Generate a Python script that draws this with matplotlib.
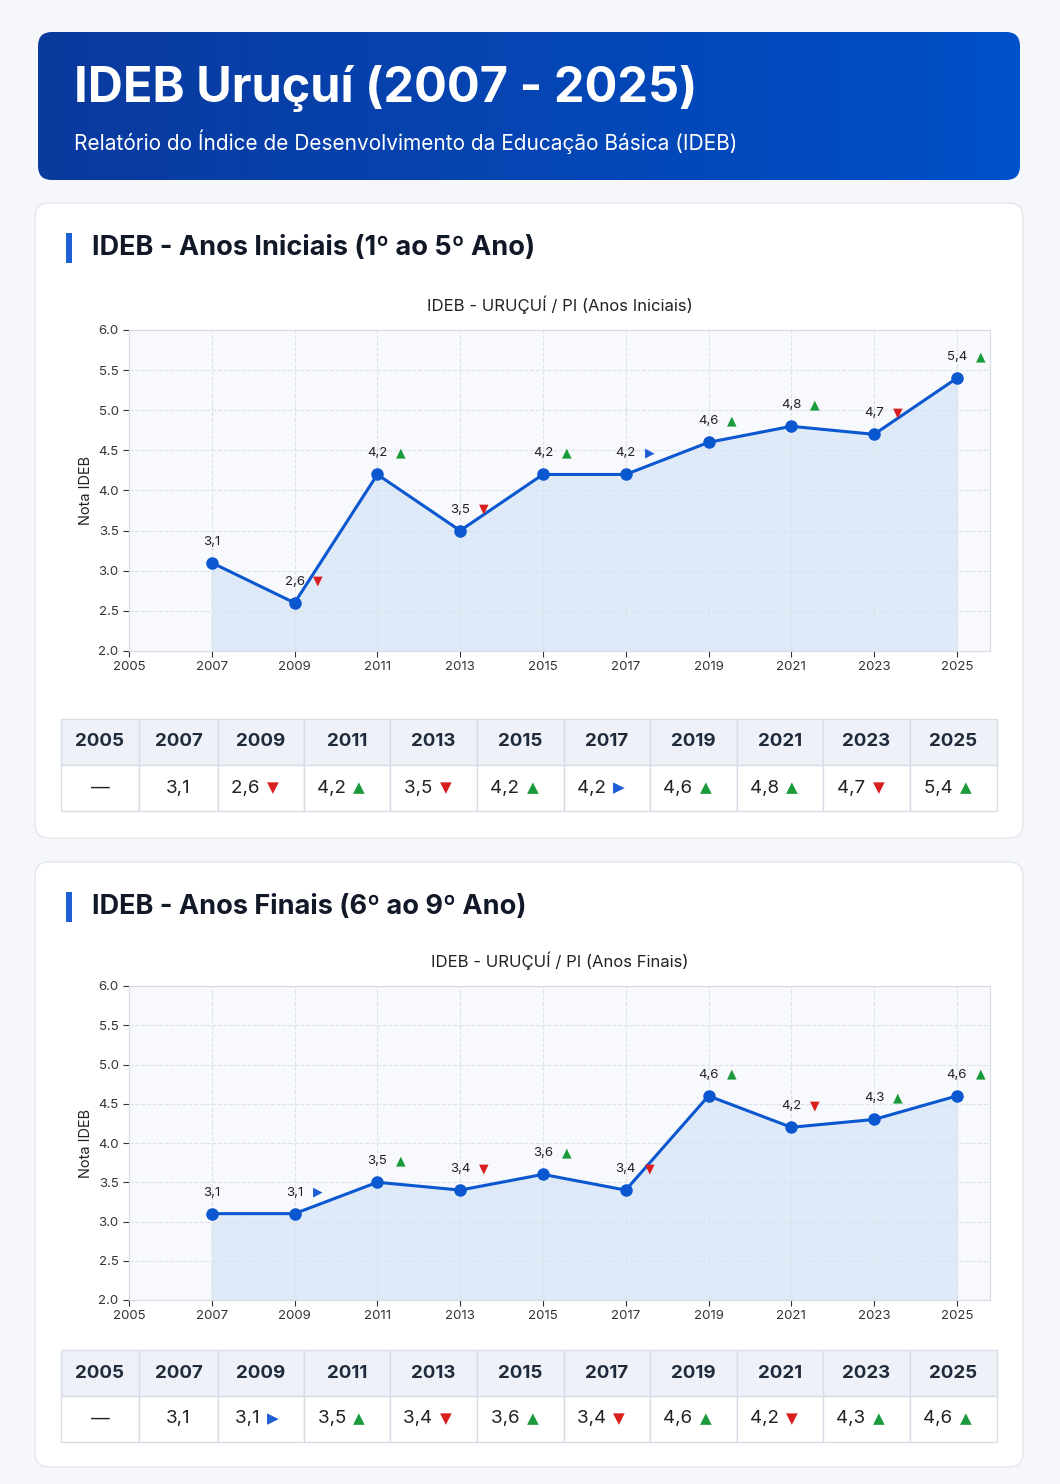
import numpy as np
import matplotlib.pyplot as plt
from matplotlib.patches import FancyBboxPatch, Rectangle
from matplotlib.colors import LinearSegmentedColormap

plt.rcParams['font.family'] = ['Inter', 'DejaVu Sans']

years = [2005, 2007, 2009, 2011, 2013, 2015, 2017, 2019, 2021, 2023, 2025]
ini_years = [2007, 2009, 2011, 2013, 2015, 2017, 2019, 2021, 2023, 2025]
ini_vals = [3.1, 2.6, 4.2, 3.5, 4.2, 4.2, 4.6, 4.8, 4.7, 5.4]
ini_trend = ['', 'down', 'up', 'down', 'up', 'same', 'up', 'up', 'down', 'up']
fin_years = [2007, 2009, 2011, 2013, 2015, 2017, 2019, 2021, 2023, 2025]
fin_vals = [3.1, 3.1, 3.5, 3.4, 3.6, 3.4, 4.6, 4.2, 4.3, 4.6]
fin_trend = ['', 'same', 'up', 'down', 'up', 'down', 'up', 'down', 'up', 'up']

SYM = {'up': ('▲', '#1b9a3b'), 'down': ('▼', '#d91e1e'), 'same': ('▶', '#1f5fd6')}
W, H = 1060, 1484
fig = plt.figure(figsize=(W / 100, H / 100), dpi=100)
fig.patch.set_facecolor('#f5f7fb')
ov = fig.add_axes([0, 0, 1, 1])
ov.set_xlim(0, W); ov.set_ylim(H, 0); ov.axis('off')

# header with gradient
grad = np.linspace(0, 1, 256).reshape(1, -1)
hdr = FancyBboxPatch((38, 32), 982, 148, boxstyle='round,pad=0,rounding_size=14',
                     fc='none', ec='none')
ov.add_patch(hdr)
cm = LinearSegmentedColormap.from_list('h', ['#0a3a9e', '#0050c8'])
im = ov.imshow(grad, cmap=cm, extent=(38, 1020, 180, 32), aspect='auto', zorder=1)
im.set_clip_path(hdr)
ov.text(74, 88, 'IDEB Uruçuí (2007 - 2025)', color='white', fontsize=35,
        fontweight='bold', va='center', zorder=2)
ov.text(74, 142, 'Relatório do Índice de Desenvolvimento da Educação Básica (IDEB)',
        color='white', fontsize=15, va='center', zorder=2)

cols = [61, 139, 218, 304, 390, 477, 564, 650, 737, 823, 910, 997]


def section(y0, y1, title, ax_top, ax_bot, ctitle, xs, vals, trend, ty):
    ov.add_patch(FancyBboxPatch((35, y0), 988, y1 - y0, boxstyle='round,pad=0,rounding_size=14',
                                fc='white', ec='#e3e7ee', lw=1))
    ov.add_patch(Rectangle((66, y0 + 30), 6, 30, fc='#1f5fd6', ec='none'))
    ov.text(92, y0 + 45, title, fontsize=19.5, fontweight='bold', color='#111827', va='center')
    ax = fig.add_axes([129 / W, 1 - ax_bot / H, 861 / W, (ax_bot - ax_top) / H])
    ax.set_facecolor('#f7f9fd')
    ax.fill_between(xs, vals, 2.0, color='#cfe0f5', alpha=0.6)
    ax.plot(xs, vals, color='#0b57d0', lw=2.2, marker='o', ms=8)
    ax.set_xlim(2005, 2025.8); ax.set_ylim(2.0, 6.0)
    ax.set_xticks(years); ax.set_yticks(np.arange(2.0, 6.01, 0.5))
    ax.yaxis.set_major_formatter(plt.FormatStrFormatter('%.1f'))
    ax.tick_params(labelsize=9.5, colors='#333', length=4)
    ax.grid(True, ls='--', color='#dde2ea', lw=0.8)
    for s in ax.spines.values():
        s.set_color('#d5dae3')
    ax.set_ylabel('Nota IDEB', fontsize=10.5, color='#222')
    ax.set_title(ctitle, fontsize=12, color='#222', pad=14)
    for x, v, t in zip(xs, vals, trend):
        lab = f'{v:.1f}'.replace('.', ',')
        ax.annotate(lab, (x, v), xytext=(0, 13), textcoords='offset points',
                    ha='center', fontsize=9.5, color='#222')
        if t:
            s, c = SYM[t]
            ax.annotate(s, (x, v), xytext=(17, 13), textcoords='offset points',
                        ha='center', fontsize=9, color=c, family=['DejaVu Sans'])
    # table
    rh = 46
    for i in range(len(years)):
        xa, xb = cols[i], cols[i + 1]
        ov.add_patch(Rectangle((xa, ty), xb - xa, rh, fc='#eef2f8', ec='#d7dde7', lw=1))
        ov.add_patch(Rectangle((xa, ty + rh), xb - xa, rh, fc='white', ec='#d7dde7', lw=1))
        xc = (xa + xb) / 2
        ov.text(xc, ty + rh / 2, str(years[i]), ha='center', va='center',
                fontsize=13.5, fontweight='bold', color='#1f2a3a')
        if years[i] in xs:
            j = xs.index(years[i])
            lab = f'{vals[j]:.1f}'.replace('.', ',')
            if trend[j]:
                s, c = SYM[trend[j]]
                ov.text(xc + 4, ty + rh * 1.5, lab + ' ', ha='right', va='center',
                        fontsize=13.5, color='#222')
                ov.text(xc + 6, ty + rh * 1.5, s, ha='left', va='center', fontsize=11,
                        color=c, family=['DejaVu Sans'])
            else:
                ov.text(xc, ty + rh * 1.5, lab, ha='center', va='center', fontsize=13.5, color='#222')
        else:
            ov.text(xc, ty + rh * 1.5, '—', ha='center', va='center', fontsize=13.5, color='#222')


section(203, 838, 'IDEB - Anos Iniciais (1º ao 5º Ano)', 330, 651,
        'IDEB - URUÇUÍ / PI (Anos Iniciais)', ini_years, ini_vals, ini_trend, 719)
section(862, 1467, 'IDEB - Anos Finais (6º ao 9º Ano)', 986, 1300,
        'IDEB - URUÇUÍ / PI (Anos Finais)', fin_years, fin_vals, fin_trend, 1350)

fig.savefig('out.png', dpi=100, facecolor=fig.get_facecolor())
